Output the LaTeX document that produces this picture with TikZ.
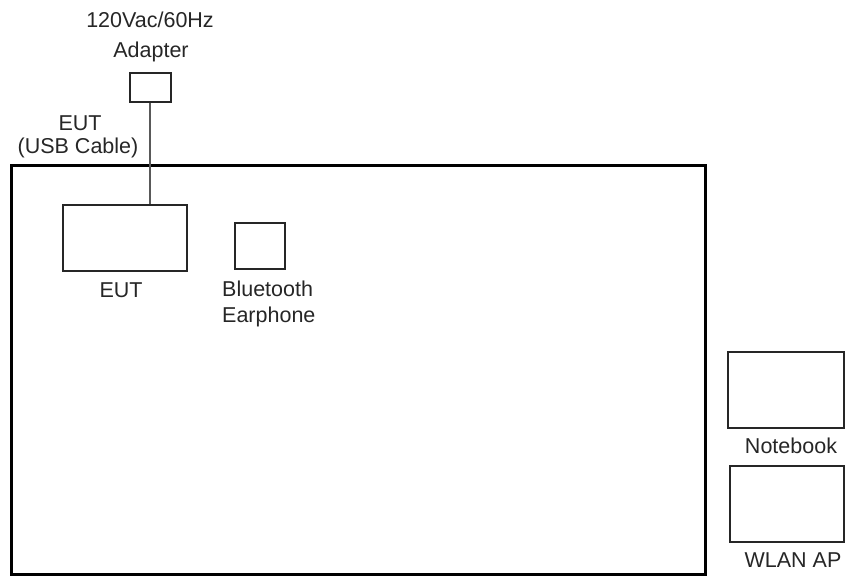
\documentclass[tikz,border=0pt]{standalone}
\usepackage{fontspec}
\setmainfont{Liberation Sans}
\begin{document}
\begin{tikzpicture}[x=1pt,y=-1pt,
  box/.style={draw=black!85, line width=1.6pt, fill=white, inner sep=0pt, anchor=north west},
  lbl/.style={anchor=base, inner sep=0pt, text=black!85, font=\fontsize{21.5}{25}\selectfont},
  cable/.style={draw=black!65, line width=2pt}]
\useasboundingbox (0,0) rectangle (845,576);
% big table
\node[draw=black, line width=3.5pt, minimum width=694pt, minimum height=409pt, inner sep=0pt, anchor=north west] (table) at (9.5,163.5) {};
% boxes
\node[box, minimum width=41pt, minimum height=29pt] (adapter) at (129,72) {};
\node[box, minimum width=124pt, minimum height=66pt] (eut) at (62,204) {};
\node[box, minimum width=50pt, minimum height=46pt] (bt) at (234,222) {};
\node[box, minimum width=116pt, minimum height=76pt] (nb) at (727,351) {};
\node[box, minimum width=114pt, minimum height=76pt] (ap) at (729,465) {};
% cable
\draw[cable] (adapter.south) -- (adapter.south |- eut.north);
% labels
\node[lbl] (l1) at (150,27) {120Vac/60Hz};
\node[lbl] (l2) at (151,57) {Adapter};
\node[lbl] (l3) at (80,130) {EUT};
\node[lbl] (l4) at (78,153) {(USB Cable)};
\node[lbl] (l5) at (121,297) {EUT};
\node[lbl, anchor=base west] (l6) at (222,296) {Bluetooth};
\node[lbl, anchor=base west] (l7) at (222,322) {Earphone};
\node[lbl] (l8) at (791,453) {Notebook};
\node[lbl] (l9) at (793,567) {WLAN AP};
\end{tikzpicture}
\end{document}
